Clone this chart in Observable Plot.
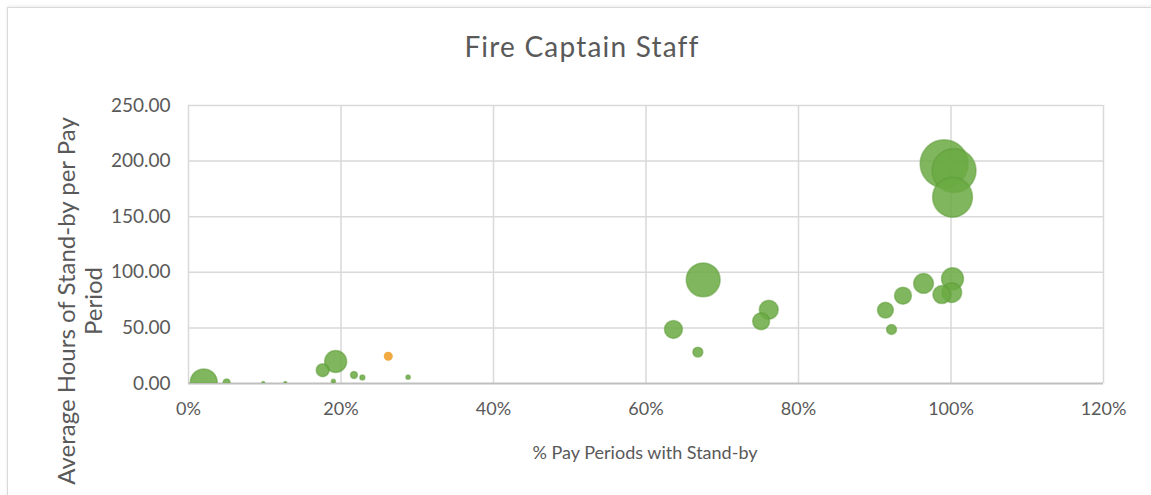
<!DOCTYPE html>
<html>
<head>
<meta charset="utf-8">
<script src="https://cdn.jsdelivr.net/npm/d3@7"></script>
<script src="https://cdn.jsdelivr.net/npm/@observablehq/plot@0.6"></script>
<style>
  html, body { margin: 0; padding: 0; background: #fff; overflow: hidden; }
  body { width: 1151px; height: 495px; position: relative; font-family: Lato, "Open Sans", sans-serif; color: #595959; }
  #frame { position: absolute; left: 7px; top: 7px; width: 1160px; height: 510px; border: 1px solid #d9d9d9; box-shadow: 0 -1px 3px rgba(0,0,0,0.08); }
  #chart { position: absolute; left: 0; top: 0; }
  #title { position: absolute; left: 382px; width: 400px; top: 29px; text-align: center; font-size: 28px; letter-spacing: 1.2px; color: #595959; white-space: nowrap; }
  #ytitle { position: absolute; left: -131px; width: 420px; top: 274px; height: 54px; line-height: 27px; text-align: center; font-size: 24px; transform: rotate(-90deg); transform-origin: 50% 50%; white-space: nowrap; }
  #xtitle { position: absolute; left: 445px; width: 400px; top: 441px; text-align: center; font-size: 18px; white-space: nowrap; }
</style>
</head>
<body>
<div id="frame"></div>
<div id="chart"></div>
<div id="title">Fire Captain Staff</div>
<div id="ytitle">Average Hours of Stand-by per Pay<br>Period</div>
<div id="xtitle">% Pay Periods with Stand-by</div>
<script>
// Green series: % pay periods with stand-by, average hours per pay period, bubble size
const pctPeriods = [2, 5, 9.8, 12.7, 17.6, 19.3, 19, 21.7, 22.8, 28.8, 63.6, 66.8, 67.5, 75.1, 76.1, 91.4, 92.2, 93.7, 96.4, 99.1, 100.4, 100.2, 98.8, 100.1, 100.2];
const avgHours   = [1, 1, 0.5, 0.5, 12, 19.8, 2, 7.7, 5.4, 5.7, 48.6, 28.2, 93.2, 56, 66.3, 66, 48.6, 79, 90, 197.6, 191.5, 167.5, 80, 81.8, 94.1];
const bubbleSize = [31.6, 2.1, 0.4, 0.4, 7.3, 21, 0.7, 2.1, 1.1, 0.8, 14, 4.3, 50, 12.5, 15.7, 11, 4.3, 12.5, 17, 100, 84, 69, 14, 17, 21];
// Orange series
const orangePct   = [26.2];
const orangeHours = [24.5];
const orangeSize  = [3.5];

const xTicks = [0, 20, 40, 60, 80, 100, 120];
const yTicks = [0, 50, 100, 150, 200, 250];

const green = pctPeriods.map((p, i) => ({pct: p, hours: avgHours[i], size: bubbleSize[i]}));
const orange = orangePct.map((p, i) => ({pct: p, hours: orangeHours[i], size: orangeSize[i]}));

const chart = Plot.plot({
  width: 1151,
  height: 495,
  marginLeft: 188,
  marginRight: 48,
  marginTop: 105,
  marginBottom: 112,
  style: {fontFamily: "Lato, 'Open Sans', sans-serif", fontSize: "18px", color: "#595959", background: "transparent"},
  x: {domain: [0, 120], label: null},
  y: {domain: [0, 250], label: null},
  r: {type: "sqrt", domain: [0, 100], range: [0, 24]},
  marks: [
    Plot.ruleX(xTicks, {stroke: "#d9d9d9", strokeWidth: 1.5}),
    Plot.ruleY(yTicks.filter(d => d > 0), {stroke: "#d9d9d9", strokeWidth: 1.5}),
    Plot.ruleY([0], {stroke: "#bfbfbf", strokeWidth: 2}),
    Plot.axisX({ticks: xTicks, tickFormat: d => d + "%", tickSize: 0, tickPadding: 19, fontSize: 18, label: null}),
    Plot.axisY({ticks: yTicks, tickFormat: d => d.toFixed(2), tickSize: 0, tickPadding: 18, fontSize: 19, letterSpacing: 0.6, label: null}),
    Plot.dot(green, {x: "pct", y: "hours", r: "size", fill: "#6aaa42", fillOpacity: 0.85, stroke: "#5b9a36", strokeOpacity: 0.5, clip: "frame", sort: {channel: "r", order: "descending"}}),
    Plot.dot(orange, {x: "pct", y: "hours", r: "size", fill: "#f0a22e", fillOpacity: 0.9, clip: "frame"})
  ]
});
document.getElementById("chart").appendChild(chart);
</script>
</body>
</html>
